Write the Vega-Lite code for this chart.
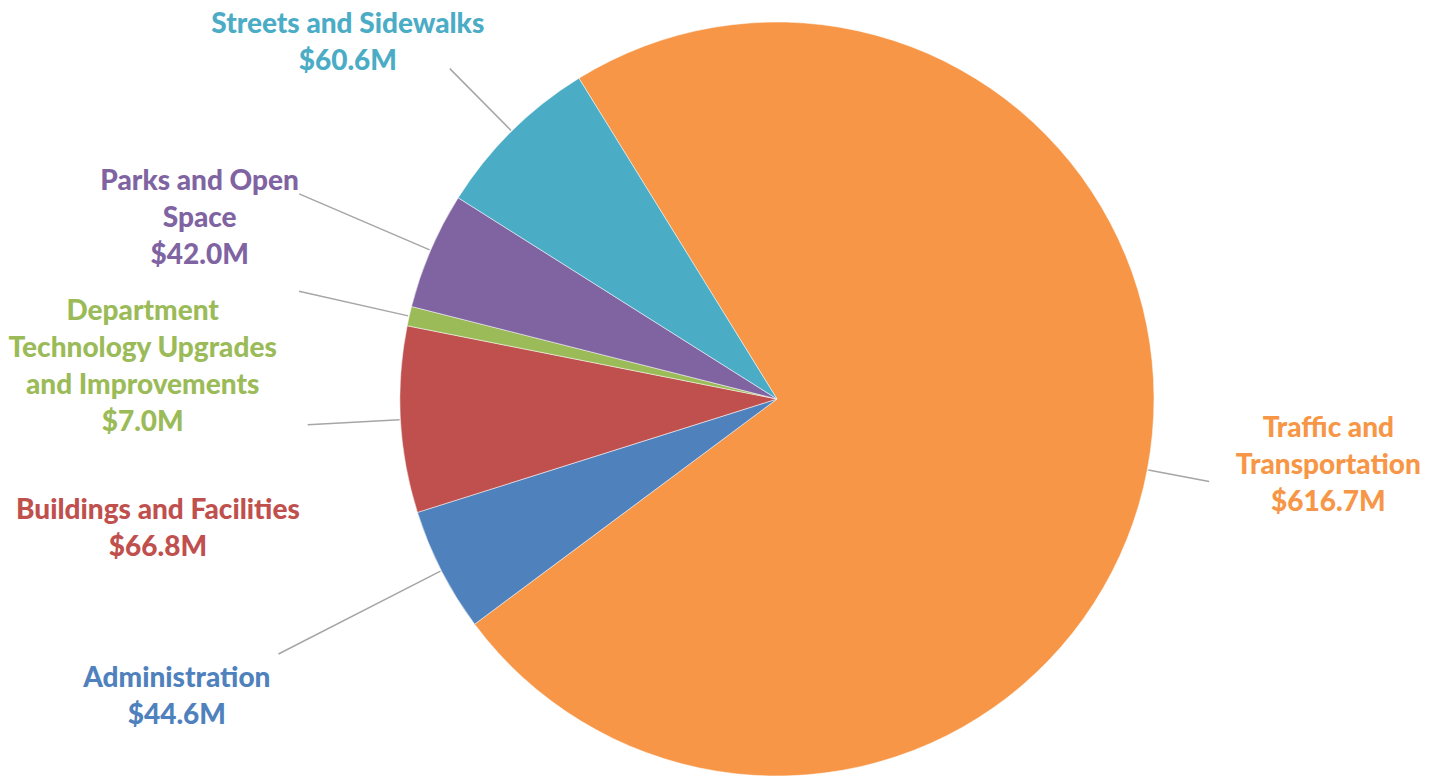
{
  "$schema": "https://vega.github.io/schema/vega-lite/v6.json",
  "width": 1326,
  "height": 756,
  "autosize": {"type": "none"},
  "padding": {"left": 114, "top": 21, "right": 0, "bottom": 0},
  "background": "#ffffff",
  "config": {"view": {"stroke": null}},
  "data": {"values": [
    {"category": "Traffic and Transportation", "value": 616.7, "label": "Traffic and\nTransportation\n$616.7M"},
    {"category": "Administration", "value": 44.6, "label": "Administration\n$44.6M"},
    {"category": "Buildings and Facilities", "value": 66.8, "label": "Buildings and Facilities\n$66.8M"},
    {"category": "Department Technology Upgrades and Improvements", "value": 7.0, "label": "Department\nTechnology Upgrades\nand Improvements\n$7.0M"},
    {"category": "Parks and Open Space", "value": 42.0, "label": "Parks and Open\nSpace\n$42.0M"},
    {"category": "Streets and Sidewalks", "value": 60.6, "label": "Streets and Sidewalks\n$60.6M"}
  ]},
  "transform": [{"window": [{"op": "row_number", "as": "rank"}]}],
  "resolve": {"scale": {"theta": "independent"}},
  "layer": [
    {
      "mark": {"type": "arc", "outerRadius": 377, "stroke": "#ffffff", "strokeWidth": 0.5},
      "encoding": {
        "theta": {"field": "value", "type": "quantitative", "stack": true, "scale": {"range": [5.7299, 12.0131]}},
        "order": {"field": "rank", "type": "quantitative"},
        "color": {"field": "category", "type": "nominal", "legend": null,
          "scale": {"domain": ["Traffic and Transportation", "Administration", "Buildings and Facilities", "Department Technology Upgrades and Improvements", "Parks and Open Space", "Streets and Sidewalks"],
                    "range": ["#F79646", "#4F81BD", "#C0504D", "#9BBB59", "#8064A2", "#4BACC6"]}}
      }
    },
    {
      "mark": {"type": "arc", "innerRadius": 378, "outerRadius": 560, "padAngle": 0.823, "fill": "#ffffff", "fillOpacity": 0, "strokeWidth": 1.5},
      "encoding": {
        "theta": {"field": "value", "type": "quantitative", "stack": true, "scale": {"range": [5.7299, 12.0131]}},
        "order": {"field": "rank", "type": "quantitative"},
        "detail": {"field": "category", "type": "nominal"},
        "stroke": {"condition": {"test": "datum.category === 'Administration'", "value": "#A6A6A6"}, "value": "transparent"}
      }
    },
    {
      "mark": {"type": "arc", "innerRadius": 378, "outerRadius": 470, "padAngle": 0.823, "fill": "#ffffff", "fillOpacity": 0, "strokeWidth": 1.5},
      "encoding": {
        "theta": {"field": "value", "type": "quantitative", "stack": true, "scale": {"range": [5.7299, 12.0131]}},
        "order": {"field": "rank", "type": "quantitative"},
        "detail": {"field": "category", "type": "nominal"},
        "stroke": {"condition": {"test": "datum.category === 'Buildings and Facilities'", "value": "#A6A6A6"}, "value": "transparent"}
      }
    },
    {
      "mark": {"type": "arc", "innerRadius": 378, "outerRadius": 490, "padAngle": 0.823, "fill": "#ffffff", "fillOpacity": 0, "strokeWidth": 1.5},
      "encoding": {
        "theta": {"field": "value", "type": "quantitative", "stack": true, "scale": {"range": [5.7299, 12.0131]}},
        "order": {"field": "rank", "type": "quantitative"},
        "detail": {"field": "category", "type": "nominal"},
        "stroke": {"condition": {"test": "datum.category === 'Department Technology Upgrades and Improvements'", "value": "#A6A6A6"}, "value": "transparent"}
      }
    },
    {
      "mark": {"type": "arc", "innerRadius": 378, "outerRadius": 520, "padAngle": 0.823, "fill": "#ffffff", "fillOpacity": 0, "strokeWidth": 1.5},
      "encoding": {
        "theta": {"field": "value", "type": "quantitative", "stack": true, "scale": {"range": [5.7299, 12.0131]}},
        "order": {"field": "rank", "type": "quantitative"},
        "detail": {"field": "category", "type": "nominal"},
        "stroke": {"condition": {"test": "datum.category === 'Parks and Open Space'", "value": "#A6A6A6"}, "value": "transparent"}
      }
    },
    {
      "mark": {"type": "arc", "innerRadius": 378, "outerRadius": 465, "padAngle": 0.823, "fill": "#ffffff", "fillOpacity": 0, "strokeWidth": 1.5},
      "encoding": {
        "theta": {"field": "value", "type": "quantitative", "stack": true, "scale": {"range": [5.7299, 12.0131]}},
        "order": {"field": "rank", "type": "quantitative"},
        "detail": {"field": "category", "type": "nominal"},
        "stroke": {"condition": {"test": "datum.category === 'Streets and Sidewalks'", "value": "#A6A6A6"}, "value": "transparent"}
      }
    },
    {
      "transform": [{"filter": "datum.category === 'Traffic and Transportation'"}],
      "mark": {"type": "arc", "innerRadius": 378, "outerRadius": 440, "fill": "#ffffff", "fillOpacity": 0, "stroke": "#A6A6A6", "strokeWidth": 1.5},
      "encoding": {
        "theta": {"field": "value", "type": "quantitative", "stack": null, "scale": {"domain": [0, 1675.4], "range": [5.7299, 12.0131]}},
        "theta2": {"field": "value"}
      }
    },
    {
      "mark": {"type": "text", "radius": 600, "font": "Lato", "fontWeight": 900, "fontSize": 28, "lineHeight": 37, "lineBreak": "\n", "align": "center", "baseline": "middle", "dx": -38, "dy": -83},
      "encoding": {
        "theta": {"field": "value", "type": "quantitative", "stack": true, "scale": {"range": [5.7299, 12.0131]}},
        "order": {"field": "rank", "type": "quantitative"},
        "color": {"field": "category", "type": "nominal", "legend": null},
        "text": {"condition": {"test": "datum.category === 'Traffic and Transportation'", "field": "label"}, "value": ""}
      }
    },
    {
      "mark": {"type": "text", "radius": 600, "font": "Lato", "fontWeight": 900, "fontSize": 28, "lineHeight": 37, "lineBreak": "\n", "align": "center", "baseline": "middle", "dx": -66, "dy": 7},
      "encoding": {
        "theta": {"field": "value", "type": "quantitative", "stack": true, "scale": {"range": [5.7299, 12.0131]}},
        "order": {"field": "rank", "type": "quantitative"},
        "color": {"field": "category", "type": "nominal", "legend": null},
        "text": {"condition": {"test": "datum.category === 'Administration'", "field": "label"}, "value": ""}
      }
    },
    {
      "mark": {"type": "text", "radius": 600, "font": "Lato", "fontWeight": 900, "fontSize": 28, "lineHeight": 37, "lineBreak": "\n", "align": "center", "baseline": "middle", "dx": -20, "dy": 79},
      "encoding": {
        "theta": {"field": "value", "type": "quantitative", "stack": true, "scale": {"range": [5.7299, 12.0131]}},
        "order": {"field": "rank", "type": "quantitative"},
        "color": {"field": "category", "type": "nominal", "legend": null},
        "text": {"condition": {"test": "datum.category === 'Buildings and Facilities'", "field": "label"}, "value": ""}
      }
    },
    {
      "mark": {"type": "text", "radius": 600, "font": "Lato", "fontWeight": 900, "fontSize": 28, "lineHeight": 37, "lineBreak": "\n", "align": "center", "baseline": "middle", "dx": -49, "dy": 45},
      "encoding": {
        "theta": {"field": "value", "type": "quantitative", "stack": true, "scale": {"range": [5.7299, 12.0131]}},
        "order": {"field": "rank", "type": "quantitative"},
        "color": {"field": "category", "type": "nominal", "legend": null},
        "text": {"condition": {"test": "datum.category === 'Department Technology Upgrades and Improvements'", "field": "label"}, "value": ""}
      }
    },
    {
      "mark": {"type": "text", "radius": 600, "font": "Lato", "fontWeight": 900, "fontSize": 28, "lineHeight": 37, "lineBreak": "\n", "align": "center", "baseline": "middle", "dx": -26, "dy": 20},
      "encoding": {
        "theta": {"field": "value", "type": "quantitative", "stack": true, "scale": {"range": [5.7299, 12.0131]}},
        "order": {"field": "rank", "type": "quantitative"},
        "color": {"field": "category", "type": "nominal", "legend": null},
        "text": {"condition": {"test": "datum.category === 'Parks and Open Space'", "field": "label"}, "value": ""}
      }
    },
    {
      "mark": {"type": "text", "radius": 600, "font": "Lato", "fontWeight": 900, "fontSize": 28, "lineHeight": 37, "lineBreak": "\n", "align": "center", "baseline": "middle", "dx": -7, "dy": 52},
      "encoding": {
        "theta": {"field": "value", "type": "quantitative", "stack": true, "scale": {"range": [5.7299, 12.0131]}},
        "order": {"field": "rank", "type": "quantitative"},
        "color": {"field": "category", "type": "nominal", "legend": null},
        "text": {"condition": {"test": "datum.category === 'Streets and Sidewalks'", "field": "label"}, "value": ""}
      }
    }
  ]
}
